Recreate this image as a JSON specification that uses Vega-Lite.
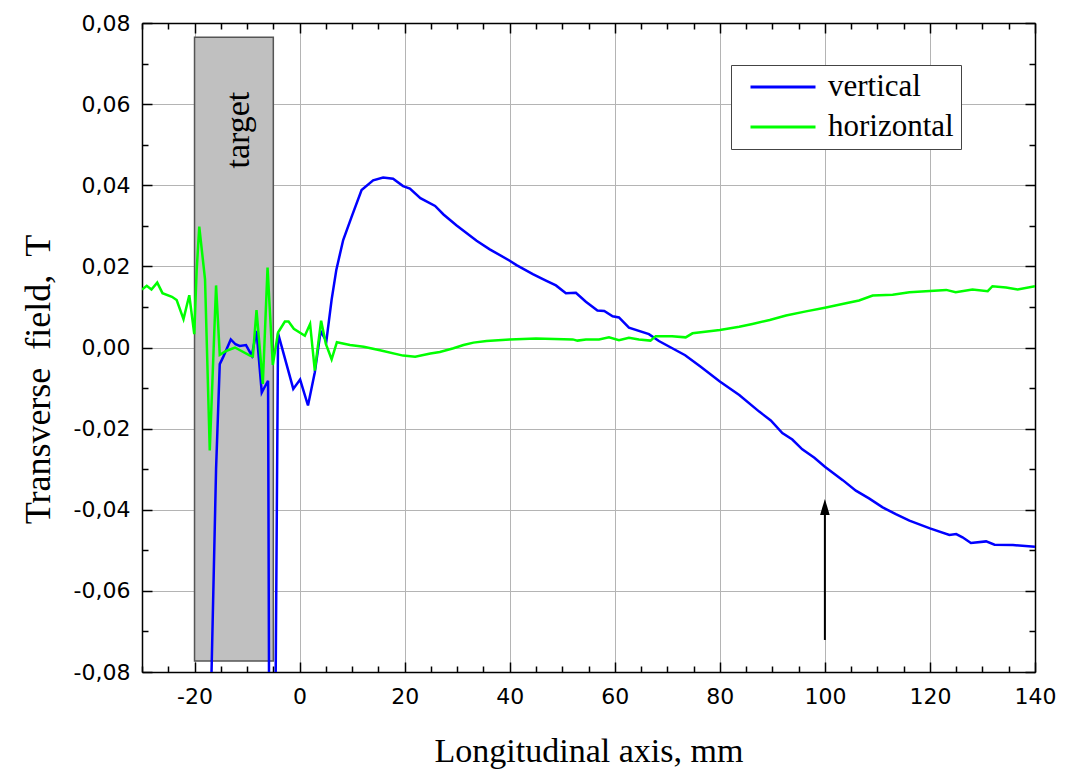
{
  "$schema": "https://vega.github.io/schema/vega-lite/v6.json",
  "width": 893,
  "height": 649,
  "autosize": "none",
  "padding": {"left": 142, "top": 23, "right": 44, "bottom": 101},
  "background": "white",
  "config": {
    "view": {"stroke": null},
    "axis": {
      "domainColor": "black", "domainWidth": 1.5,
      "tickColor": "black", "tickWidth": 1.5,
      "gridColor": "#b4b4b4", "gridWidth": 1,
      "labelFont": "DejaVu Sans", "labelFontSize": 22, "labelColor": "black",
      "titleFont": "Liberation Serif", "titleFontWeight": "normal", "titleFontSize": 34, "titleColor": "black"
    }
  },
  "datasets": {
    "curves": [
      {"x": -16.9, "B": -0.088, "s": "vertical"},
      {"x": -15.9, "B": -0.030, "s": "vertical"},
      {"x": -15.2, "B": -0.0041, "s": "vertical"},
      {"x": -14.6, "B": -0.0025, "s": "vertical"},
      {"x": -13.1, "B": 0.0020, "s": "vertical"},
      {"x": -12.2, "B": 0.0008, "s": "vertical"},
      {"x": -11.4, "B": 0.0004, "s": "vertical"},
      {"x": -10.2, "B": 0.0006, "s": "vertical"},
      {"x": -9.1, "B": -0.0020, "s": "vertical"},
      {"x": -8.2, "B": 0.0041, "s": "vertical"},
      {"x": -7.2, "B": -0.0111, "s": "vertical"},
      {"x": -6.8, "B": -0.0101, "s": "vertical"},
      {"x": -6.0, "B": -0.0082, "s": "vertical"},
      {"x": -5.8, "B": -0.09, "s": "vertical"},
      {"x": -4.6, "B": -0.09, "s": "vertical"},
      {"x": -4.1, "B": 0.0035, "s": "vertical"},
      {"x": -1.2, "B": -0.0102, "s": "vertical"},
      {"x": 0.1, "B": -0.0079, "s": "vertical"},
      {"x": 1.6, "B": -0.0143, "s": "vertical"},
      {"x": 2.9, "B": -0.0061, "s": "vertical"},
      {"x": 4.0, "B": 0.0040, "s": "vertical"},
      {"x": 5.1, "B": 0.0016, "s": "vertical"},
      {"x": 6.1, "B": 0.0118, "s": "vertical"},
      {"x": 7.0, "B": 0.0192, "s": "vertical"},
      {"x": 8.3, "B": 0.0265, "s": "vertical"},
      {"x": 9.9, "B": 0.0322, "s": "vertical"},
      {"x": 11.8, "B": 0.0388, "s": "vertical"},
      {"x": 14.0, "B": 0.0412, "s": "vertical"},
      {"x": 15.9, "B": 0.0419, "s": "vertical"},
      {"x": 17.8, "B": 0.0416, "s": "vertical"},
      {"x": 19.7, "B": 0.0398, "s": "vertical"},
      {"x": 21.0, "B": 0.0392, "s": "vertical"},
      {"x": 23.0, "B": 0.0368, "s": "vertical"},
      {"x": 25.8, "B": 0.0349, "s": "vertical"},
      {"x": 27.4, "B": 0.0328, "s": "vertical"},
      {"x": 29.9, "B": 0.0301, "s": "vertical"},
      {"x": 33.7, "B": 0.0263, "s": "vertical"},
      {"x": 36.2, "B": 0.0242, "s": "vertical"},
      {"x": 40.0, "B": 0.0214, "s": "vertical"},
      {"x": 41.3, "B": 0.0203, "s": "vertical"},
      {"x": 44.4, "B": 0.0181, "s": "vertical"},
      {"x": 46.9, "B": 0.0165, "s": "vertical"},
      {"x": 48.8, "B": 0.0153, "s": "vertical"},
      {"x": 50.7, "B": 0.0134, "s": "vertical"},
      {"x": 52.6, "B": 0.0135, "s": "vertical"},
      {"x": 54.5, "B": 0.0113, "s": "vertical"},
      {"x": 56.7, "B": 0.0091, "s": "vertical"},
      {"x": 58.0, "B": 0.0090, "s": "vertical"},
      {"x": 59.6, "B": 0.0077, "s": "vertical"},
      {"x": 60.8, "B": 0.0074, "s": "vertical"},
      {"x": 62.7, "B": 0.0049, "s": "vertical"},
      {"x": 66.5, "B": 0.0033, "s": "vertical"},
      {"x": 68.4, "B": 0.0016, "s": "vertical"},
      {"x": 73.4, "B": -0.0019, "s": "vertical"},
      {"x": 76.3, "B": -0.0047, "s": "vertical"},
      {"x": 80.0, "B": -0.0084, "s": "vertical"},
      {"x": 83.7, "B": -0.0117, "s": "vertical"},
      {"x": 87.5, "B": -0.0158, "s": "vertical"},
      {"x": 89.7, "B": -0.0180, "s": "vertical"},
      {"x": 91.9, "B": -0.0211, "s": "vertical"},
      {"x": 93.8, "B": -0.0227, "s": "vertical"},
      {"x": 95.7, "B": -0.0251, "s": "vertical"},
      {"x": 98.0, "B": -0.0272, "s": "vertical"},
      {"x": 100.0, "B": -0.0294, "s": "vertical"},
      {"x": 103.4, "B": -0.0327, "s": "vertical"},
      {"x": 105.9, "B": -0.0353, "s": "vertical"},
      {"x": 108.4, "B": -0.0372, "s": "vertical"},
      {"x": 111.0, "B": -0.0394, "s": "vertical"},
      {"x": 113.5, "B": -0.0411, "s": "vertical"},
      {"x": 116.1, "B": -0.0427, "s": "vertical"},
      {"x": 120.0, "B": -0.0446, "s": "vertical"},
      {"x": 123.7, "B": -0.0462, "s": "vertical"},
      {"x": 125.0, "B": -0.0460, "s": "vertical"},
      {"x": 126.2, "B": -0.0468, "s": "vertical"},
      {"x": 127.8, "B": -0.0482, "s": "vertical"},
      {"x": 130.7, "B": -0.0478, "s": "vertical"},
      {"x": 132.3, "B": -0.0486, "s": "vertical"},
      {"x": 135.8, "B": -0.0487, "s": "vertical"},
      {"x": 140.0, "B": -0.0491, "s": "vertical"},
      {"x": -30.0, "B": 0.0143, "s": "horizontal"},
      {"x": -29.1, "B": 0.0152, "s": "horizontal"},
      {"x": -28.2, "B": 0.0143, "s": "horizontal"},
      {"x": -27.1, "B": 0.0160, "s": "horizontal"},
      {"x": -26.1, "B": 0.0134, "s": "horizontal"},
      {"x": -24.3, "B": 0.0125, "s": "horizontal"},
      {"x": -23.4, "B": 0.0117, "s": "horizontal"},
      {"x": -22.1, "B": 0.0070, "s": "horizontal"},
      {"x": -21.0, "B": 0.0129, "s": "horizontal"},
      {"x": -20.05, "B": 0.0033, "s": "horizontal"},
      {"x": -19.6, "B": 0.0189, "s": "horizontal"},
      {"x": -19.1, "B": 0.0298, "s": "horizontal"},
      {"x": -18.0, "B": 0.0168, "s": "horizontal"},
      {"x": -17.1, "B": -0.0254, "s": "horizontal"},
      {"x": -15.9, "B": 0.0153, "s": "horizontal"},
      {"x": -15.2, "B": -0.0018, "s": "horizontal"},
      {"x": -13.9, "B": -0.0008, "s": "horizontal"},
      {"x": -12.3, "B": 0.0000, "s": "horizontal"},
      {"x": -9.45, "B": -0.0020, "s": "horizontal"},
      {"x": -8.9, "B": -0.0022, "s": "horizontal"},
      {"x": -8.2, "B": 0.0092, "s": "horizontal"},
      {"x": -7.0, "B": -0.0090, "s": "horizontal"},
      {"x": -6.1, "B": 0.0197, "s": "horizontal"},
      {"x": -5.1, "B": -0.0043, "s": "horizontal"},
      {"x": -4.1, "B": 0.0037, "s": "horizontal"},
      {"x": -2.8, "B": 0.0064, "s": "horizontal"},
      {"x": -2.1, "B": 0.0064, "s": "horizontal"},
      {"x": -1.1, "B": 0.0046, "s": "horizontal"},
      {"x": 1.0, "B": 0.0029, "s": "horizontal"},
      {"x": 2.0, "B": 0.0058, "s": "horizontal"},
      {"x": 2.9, "B": -0.0057, "s": "horizontal"},
      {"x": 4.1, "B": 0.0066, "s": "horizontal"},
      {"x": 5.0, "B": 0.0009, "s": "horizontal"},
      {"x": 6.1, "B": -0.0029, "s": "horizontal"},
      {"x": 7.1, "B": 0.0013, "s": "horizontal"},
      {"x": 9.6, "B": 0.0006, "s": "horizontal"},
      {"x": 12.2, "B": 0.0002, "s": "horizontal"},
      {"x": 15.3, "B": -0.0007, "s": "horizontal"},
      {"x": 19.7, "B": -0.0020, "s": "horizontal"},
      {"x": 22.0, "B": -0.0023, "s": "horizontal"},
      {"x": 24.9, "B": -0.0015, "s": "horizontal"},
      {"x": 26.7, "B": -0.0011, "s": "horizontal"},
      {"x": 29.3, "B": -0.0002, "s": "horizontal"},
      {"x": 31.2, "B": 0.0006, "s": "horizontal"},
      {"x": 33.1, "B": 0.0012, "s": "horizontal"},
      {"x": 35.6, "B": 0.0016, "s": "horizontal"},
      {"x": 40.0, "B": 0.0020, "s": "horizontal"},
      {"x": 45.0, "B": 0.0022, "s": "horizontal"},
      {"x": 52.0, "B": 0.0020, "s": "horizontal"},
      {"x": 52.9, "B": 0.0017, "s": "horizontal"},
      {"x": 54.5, "B": 0.0020, "s": "horizontal"},
      {"x": 57.0, "B": 0.0020, "s": "horizontal"},
      {"x": 58.9, "B": 0.0025, "s": "horizontal"},
      {"x": 60.8, "B": 0.0018, "s": "horizontal"},
      {"x": 62.7, "B": 0.0024, "s": "horizontal"},
      {"x": 64.6, "B": 0.0020, "s": "horizontal"},
      {"x": 66.8, "B": 0.0017, "s": "horizontal"},
      {"x": 67.8, "B": 0.0028, "s": "horizontal"},
      {"x": 70.9, "B": 0.0028, "s": "horizontal"},
      {"x": 73.5, "B": 0.0025, "s": "horizontal"},
      {"x": 74.8, "B": 0.0035, "s": "horizontal"},
      {"x": 80.0, "B": 0.0043, "s": "horizontal"},
      {"x": 83.7, "B": 0.0051, "s": "horizontal"},
      {"x": 86.2, "B": 0.0058, "s": "horizontal"},
      {"x": 89.5, "B": 0.0068, "s": "horizontal"},
      {"x": 92.6, "B": 0.0079, "s": "horizontal"},
      {"x": 96.4, "B": 0.0089, "s": "horizontal"},
      {"x": 100.0, "B": 0.0098, "s": "horizontal"},
      {"x": 104.0, "B": 0.0109, "s": "horizontal"},
      {"x": 106.5, "B": 0.0116, "s": "horizontal"},
      {"x": 109.1, "B": 0.0128, "s": "horizontal"},
      {"x": 112.9, "B": 0.0130, "s": "horizontal"},
      {"x": 116.1, "B": 0.0136, "s": "horizontal"},
      {"x": 120.0, "B": 0.0139, "s": "horizontal"},
      {"x": 123.1, "B": 0.0142, "s": "horizontal"},
      {"x": 124.9, "B": 0.0136, "s": "horizontal"},
      {"x": 128.1, "B": 0.0143, "s": "horizontal"},
      {"x": 131.0, "B": 0.0139, "s": "horizontal"},
      {"x": 131.9, "B": 0.0151, "s": "horizontal"},
      {"x": 134.5, "B": 0.0148, "s": "horizontal"},
      {"x": 136.7, "B": 0.0143, "s": "horizontal"},
      {"x": 140.0, "B": 0.0151, "s": "horizontal"}
    ],
    "target": [
      {"x1": -20, "x2": -5, "y1": -0.0773, "y2": 0.0765, "label": "target", "lx": -11.6, "ly": 0.0536}
    ],
    "arrow": [
      {"x": 100, "y1": -0.0721, "y2": -0.0405, "ty": -0.0393}
    ]
  },
  "layer": [
    {
      "data": {"name": "target"},
      "mark": {"type": "rect", "fill": "#c0c0c0", "stroke": "#555555", "strokeWidth": 1.5},
      "encoding": {
        "x": {
          "field": "x1", "type": "quantitative",
          "scale": {"domain": [-30, 140], "nice": false, "zero": false},
          "axis": {
            "orient": "bottom",
            "title": "Longitudinal axis, mm",
            "values": [-30, -25, -20, -15, -10, -5, 0, 5, 10, 15, 20, 25, 30, 35, 40, 45, 50, 55, 60, 65, 70, 75, 80, 85, 90, 95, 100, 105, 110, 115, 120, 125, 130, 135, 140],
            "labelExpr": "datum.value % 20 === 0 ? replace(format(datum.value, 'd'), '\u2212', '-') : ''",
            "tickSize": {"condition": {"test": "datum.value % 20 === 0", "value": -10}, "value": -6},
            "grid": true,
            "gridOpacity": {"condition": {"test": "datum.value % 20 !== 0", "value": 0}, "value": 1},
            "labelPadding": 24,
            "labelFlush": false,
            "labelOverlap": false,
            "titlePadding": 23
          }
        },
        "x2": {"field": "x2"},
        "y": {
          "field": "y1", "type": "quantitative",
          "scale": {"domain": [-0.08, 0.08], "nice": false, "zero": false},
          "axis": {
            "orient": "left",
            "title": "Transverse \u00a0field, \u00a0T",
            "titleFontSize": 36,
            "values": [-0.08, -0.07, -0.06, -0.05, -0.04, -0.03, -0.02, -0.01, 0, 0.01, 0.02, 0.03, 0.04, 0.05, 0.06, 0.07, 0.08],
            "labelExpr": "abs(round(datum.value * 100)) % 2 === 0 ? replace(replace(format(datum.value, '.2f'), '.', ','), '\u2212', '-') : ''",
            "tickSize": {"condition": {"test": "abs(round(datum.value * 100)) % 2 === 0", "value": -10}, "value": -6},
            "grid": true,
            "gridOpacity": {"condition": {"test": "abs(round(datum.value * 100)) % 2 !== 0", "value": 0}, "value": 1},
            "labelPadding": 22,
            "labelFlush": false,
            "labelOverlap": false,
            "titlePadding": 16,
            "titleY": 356
          }
        },
        "y2": {"field": "y2"}
      }
    },
    {
      "data": {"name": "target"},
      "mark": {"type": "text", "angle": 270, "font": "Liberation Serif", "fontSize": 34, "color": "black", "align": "center", "baseline": "middle"},
      "encoding": {
        "x": {"field": "lx", "type": "quantitative", "axis": null},
        "y": {"field": "ly", "type": "quantitative", "axis": null},
        "text": {"field": "label"}
      }
    },
    {
      "data": {"name": "curves"},
      "transform": [{"filter": "datum.s === 'vertical'"}],
      "mark": {"type": "line", "strokeWidth": 2.5, "clip": true},
      "encoding": {
        "x": {"field": "x", "type": "quantitative", "axis": null},
        "y": {"field": "B", "type": "quantitative", "axis": null},
        "order": {"field": "x"},
        "color": {
          "field": "s", "type": "nominal",
          "scale": {"domain": ["vertical", "horizontal"], "range": ["#0000ff", "#00ff00"]},
          "legend": {
            "title": null,
            "orient": "none",
            "legendX": 589,
            "legendY": 42,
            "symbolType": "stroke",
            "symbolSize": 4225,
            "symbolStrokeWidth": 3,
            "symbolOffset": 11,
            "clipHeight": 30,
            "labelFont": "Liberation Serif",
            "labelFontSize": 31,
            "labelColor": "black",
            "labelOffset": 11,
            "labelLimit": 400,
            "rowPadding": 9,
            "padding": 7,
            "strokeColor": "#444444",
            "fillColor": "white"
          }
        }
      }
    },
    {
      "data": {"name": "curves"},
      "transform": [{"filter": "datum.s === 'horizontal'"}],
      "mark": {"type": "line", "strokeWidth": 2.5, "clip": true},
      "encoding": {
        "x": {"field": "x", "type": "quantitative", "axis": null},
        "y": {"field": "B", "type": "quantitative", "axis": null},
        "order": {"field": "x"},
        "color": {"field": "s", "type": "nominal"}
      }
    },
    {
      "data": {"name": "arrow"},
      "mark": {"type": "rule", "color": "black", "strokeWidth": 2},
      "encoding": {
        "x": {"field": "x", "type": "quantitative", "axis": null},
        "y": {"field": "y1", "type": "quantitative", "axis": null},
        "y2": {"field": "y2"}
      }
    },
    {
      "data": {"name": "arrow"},
      "mark": {"type": "point", "shape": "M0,-1L0.6,1L-0.6,1Z", "filled": true, "color": "black", "opacity": 1, "size": 256},
      "encoding": {
        "x": {"field": "x", "type": "quantitative", "axis": null},
        "y": {"field": "ty", "type": "quantitative", "axis": null}
      }
    },
    {
      "data": {"name": "target"},
      "mark": {"type": "point", "opacity": 0},
      "encoding": {
        "x": {
          "field": "x1", "type": "quantitative",
          "axis": {
            "orient": "top", "title": null, "labels": false, "grid": false,
            "values": [-30, -25, -20, -15, -10, -5, 0, 5, 10, 15, 20, 25, 30, 35, 40, 45, 50, 55, 60, 65, 70, 75, 80, 85, 90, 95, 100, 105, 110, 115, 120, 125, 130, 135, 140],
            "tickSize": {"condition": {"test": "datum.value % 20 === 0", "value": -10}, "value": -6}
          }
        },
        "y": {
          "field": "y1", "type": "quantitative",
          "axis": {
            "orient": "right", "title": null, "labels": false, "grid": false,
            "values": [-0.08, -0.07, -0.06, -0.05, -0.04, -0.03, -0.02, -0.01, 0, 0.01, 0.02, 0.03, 0.04, 0.05, 0.06, 0.07, 0.08],
            "tickSize": {"condition": {"test": "abs(round(datum.value * 100)) % 2 === 0", "value": -10}, "value": -6}
          }
        }
      }
    }
  ],
  "resolve": {"axis": {"x": "independent", "y": "independent"}}
}
